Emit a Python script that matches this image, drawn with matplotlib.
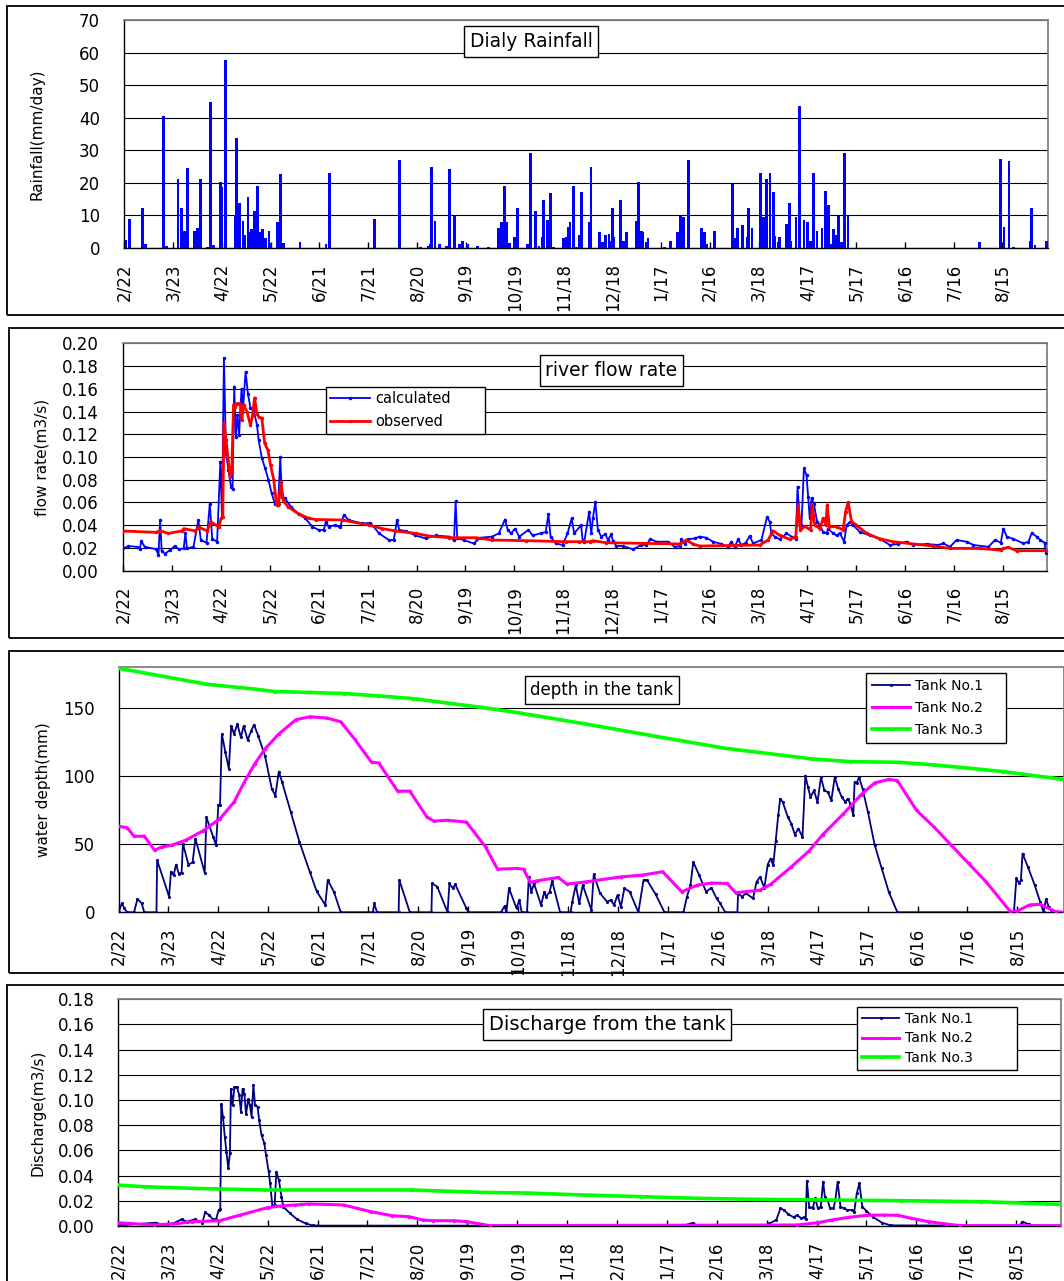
import matplotlib
matplotlib.use("Agg")
import matplotlib.pyplot as plt
from matplotlib.patches import Rectangle
from matplotlib.ticker import FixedLocator, FuncFormatter

plt.rcParams['font.family'] = ['DejaVu Sans']

W, H = 1064, 1281

# ---------------- data (day offsets from 2/22) ----------------
tick_days = list(range(0, 541, 30))
tick_labels = ['2/22', '3/23', '4/22', '5/22', '6/21', '7/21', '8/20', '9/19', '10/19',
               '11/18', '12/18', '1/17', '2/16', '3/18', '4/17', '5/17', '6/16', '7/16', '8/15']

rain_day = [1, 3, 11, 13, 24, 26, 33, 35, 36, 37, 39, 43, 45, 47, 51, 53, 55, 59, 60, 62,
            68, 69, 71, 73, 74, 76, 77, 78, 80, 82, 83, 85, 87, 89, 90, 94, 96, 98, 108, 124,
            126, 154, 169, 182, 187, 188, 189, 191, 194, 198, 200, 203, 206, 208, 211, 217, 224,
            230, 232, 234, 235, 237, 240, 242, 248, 250, 253, 255, 257, 258, 260, 262, 264,
            270, 272, 273, 274, 276, 278, 280, 281, 286, 287, 292, 294, 296, 298, 299, 300,
            301, 305, 307, 309, 315, 316, 318, 319, 321, 322, 332, 336, 340, 342, 344, 347,
            355, 357, 358, 363, 374, 375, 377, 380, 383, 384, 386, 391, 393, 394, 395, 397,
            399, 400, 402, 403, 407, 409, 410, 413, 415, 418, 420, 422, 424, 426, 429, 431,
            433, 435, 436, 438, 439, 441, 443, 445, 526, 539, 541, 544, 547, 557, 558, 560, 567]
rain_mm = [2.6, 8.9, 12.3, 1.2, 40.4, 0.7, 21.2, 12.3, 0.5, 5.3, 24.7, 5.3, 6.2, 21.2, 0.4, 44.8,
           0.9, 20.4, 18.7, 57.6, 10.2, 33.7, 13.7, 8.4, 4.1, 15.6, 4.8, 5.8, 11.5, 19.0, 5.0,
           5.8, 3.1, 5.3, 1.5, 7.9, 22.6, 1.5, 1.7, 1.2, 23.0, 8.9, 27.1, 0.4, 0.7, 1.2, 24.8,
           8.4, 1.2, 0.7, 24.3, 9.7, 1.2, 2.1, 1.2, 0.7, 0.4, 6.2, 7.9, 19.0, 7.9, 1.5, 3.5,
           12.3, 1.2, 29.2, 11.5, 0.7, 3.5, 14.6, 8.7, 16.8, 0.4, 3.0, 3.5, 6.6, 7.9, 19.0,
           0.4, 4.0, 17.3, 7.9, 24.8, 4.8, 1.7, 4.0, 4.3, 2.3, 12.3, 3.5, 14.6, 2.1, 4.8, 8.4,
           20.4, 5.1, 4.8, 1.7, 3.1, 0.4, 2.1, 4.8, 9.7, 9.4, 27.1, 6.2, 4.8, 1.2, 5.1, 19.5,
           3.1, 6.2, 7.2, 3.5, 12.3, 6.2, 23.0, 9.4, 1.7, 21.2, 23.0, 17.3, 3.8, 1.7, 3.5, 7.4,
           13.7, 2.1, 9.4, 43.5, 8.7, 8.1, 2.1, 23.0, 5.3, 6.2, 17.6, 13.2, 1.2, 5.8, 4.0, 9.7,
           1.7, 29.2, 10.2, 1.7, 27.4, 6.4, 26.6, 0.4, 2.1, 12.3, 0.9, 2.1]

calc_day = [0, 3, 8, 10, 11, 13, 20, 21.5, 22.5, 23.5, 25.5, 28.5, 31.5, 34, 37, 38, 39, 43, 46,
            47.5, 51, 53, 54.5, 57.5, 59.5, 60.5, 61.7, 63, 64.5, 66, 67, 68, 69, 70, 71, 72.5,
            73.5, 75, 76.5, 78, 80, 82, 83, 85, 87, 89, 91, 93, 95, 96.3, 97.3, 99, 103, 107.5,
            111.7, 116, 120, 123, 124.3, 126, 130, 133, 135.3, 138.3, 146.5, 151.7, 157, 163,
            166, 168, 169.3, 173.3, 179.3, 185.5, 191.7, 200, 203, 204, 205, 209, 215, 219.3,
            226.3, 230.5, 234.3, 236, 238, 240.5, 243, 248.7, 251.3, 256.5, 259.3, 261, 262.3,
            265.5, 269.7, 272.7, 275.3, 276.8, 281, 282, 283, 286, 287.3, 288.3, 289.8, 291.4,
            293.4, 296, 297.5, 299.6, 300.6, 302.7, 306.8, 312.9, 318, 321.1, 323.6, 327.3,
            334.4, 338.5, 341.6, 342.6, 344.7, 346.7, 350.8, 353.9, 358, 362.1, 367.2, 371.3,
            373.4, 375.4, 377.5, 379.5, 382.2, 384.6, 386.7, 391.8, 395.3, 396.9, 397.9, 400,
            403.1, 407.2, 410.3, 412.9, 414, 415.4, 416.4, 417.9, 419.5, 420.5, 421.5, 422.6,
            424, 426, 427.7, 429.7, 431.8, 432.8, 435.9, 438, 440, 442.6, 444.1, 446.1, 448.2,
            452.3, 458.4, 464.6, 470.7, 475.9, 481, 485, 493.3, 500.5, 503.5, 507.6, 511.7,
            517.9, 522, 531.2, 535.3, 538.8, 540.4, 542.5, 546.6, 552.7, 555.8, 557.8, 560.9,
            563, 565.7, 566.7]
calc_q = [0.0196, 0.0217, 0.021, 0.019, 0.026, 0.021, 0.019, 0.014, 0.0446, 0.017, 0.015, 0.018,
          0.0217, 0.0188, 0.0196, 0.033, 0.0196, 0.021, 0.0446, 0.027, 0.0246, 0.059, 0.028,
          0.0255, 0.096, 0.0475, 0.187, 0.103, 0.0886, 0.074, 0.072, 0.162, 0.118, 0.137, 0.119,
          0.160, 0.144, 0.175, 0.155, 0.143, 0.141, 0.128, 0.115, 0.099, 0.090, 0.080, 0.068,
          0.059, 0.058, 0.100, 0.065, 0.064, 0.056, 0.050, 0.046, 0.0387, 0.0358, 0.0358, 0.043,
          0.0387, 0.040, 0.038, 0.049, 0.0446, 0.0416, 0.042, 0.0328, 0.027, 0.027, 0.0446,
          0.0358, 0.035, 0.031, 0.0284, 0.031, 0.030, 0.027, 0.061, 0.0284, 0.027, 0.024, 0.029,
          0.030, 0.0328, 0.045, 0.0358, 0.0328, 0.037, 0.030, 0.0358, 0.031, 0.033, 0.034,
          0.0496, 0.030, 0.024, 0.0226, 0.0328, 0.046, 0.0328, 0.040, 0.027, 0.0255, 0.052,
          0.0328, 0.046, 0.0607, 0.0358, 0.030, 0.032, 0.027, 0.032, 0.026, 0.0217, 0.0217,
          0.0188, 0.0226, 0.0226, 0.0279, 0.0255, 0.0255, 0.021, 0.0217, 0.0276, 0.0235, 0.0276,
          0.0284, 0.030, 0.029, 0.0255, 0.0235, 0.021, 0.0255, 0.021, 0.0276, 0.0226, 0.0246,
          0.0305, 0.024, 0.027, 0.0475, 0.043, 0.0328, 0.030, 0.0276, 0.0328, 0.030, 0.0276,
          0.0739, 0.0416, 0.040, 0.090, 0.084, 0.065, 0.046, 0.0636, 0.059, 0.043, 0.040, 0.034,
          0.0328, 0.037, 0.0328, 0.031, 0.033, 0.0255, 0.040, 0.043, 0.040, 0.034, 0.031, 0.028,
          0.0226, 0.0235, 0.0255, 0.0226, 0.0235, 0.0226, 0.024, 0.021, 0.027, 0.0255, 0.0226,
          0.021, 0.027, 0.0246, 0.037, 0.030, 0.028, 0.024, 0.0255, 0.033, 0.030, 0.027, 0.0246,
          0.0152]

obs_day = [0, 20, 22.5, 27.5, 36, 37, 44, 46.5, 51.5, 53.5, 58.5, 60, 61, 61.7, 63, 65.5, 66.5,
           67.6, 68.6, 69.7, 71.7, 72.7, 73.8, 75.8, 78, 79.3, 80.5, 82, 83.3, 85, 86.7, 88.7,
           90.3, 92.3, 94, 95.3, 96.7, 98.3, 101.3, 107.5, 114, 118, 134.5, 151, 159, 167, 179.5,
           187.6, 200, 216.5, 226.5, 247.5, 272, 280, 286.3, 288.3, 296.5, 341.6, 345.7, 349.8,
           353.9, 390.8, 395.9, 399, 403.1, 409.2, 412.9, 414.4, 415.8, 418.5, 422, 423, 424.6,
           427.7, 429.7, 431.4, 432.2, 433.5, 438, 442, 443.5, 445.1, 447.2, 450.2, 456.4, 464.6,
           472.8, 485, 497.4, 507.6, 526, 538.8, 540.4, 543.5, 548.6, 567]
obs_q = [0.0349, 0.0337, 0.0352, 0.0328, 0.035, 0.037, 0.035, 0.038, 0.035, 0.043, 0.0387,
         0.046, 0.0475, 0.130, 0.115, 0.0827, 0.087, 0.146, 0.144, 0.147, 0.147, 0.1325, 0.146,
         0.140, 0.128, 0.137, 0.152, 0.138, 0.135, 0.134, 0.112, 0.106, 0.093, 0.080, 0.058,
         0.059, 0.078, 0.061, 0.056, 0.050, 0.046, 0.045, 0.0446, 0.040, 0.037, 0.035, 0.0328,
         0.0305, 0.029, 0.029, 0.027, 0.0264, 0.0255, 0.0255, 0.0255, 0.0264, 0.0246, 0.0235,
         0.027, 0.0235, 0.0217, 0.0226, 0.027, 0.035, 0.031, 0.0276, 0.030, 0.058, 0.0358,
         0.039, 0.0358, 0.058, 0.040, 0.037, 0.046, 0.040, 0.058, 0.0387, 0.0387, 0.0358, 0.052,
         0.060, 0.043, 0.040, 0.0328, 0.028, 0.0255, 0.0235, 0.0217, 0.0196, 0.0196, 0.018,
         0.0196, 0.0205, 0.0176, 0.0176]

# water depth in tanks (mm)
t1_day = [0, 2, 3.5, 5.2, 9.3, 11.4, 13.9, 15.5, 22.8, 23.2, 30.4, 31.5, 33.1, 34.6, 36.2, 37.9,
          38.7, 42, 44.5, 46.2, 51.8, 52.8, 56.9, 58.6, 60, 61, 62.1, 64.2, 66.3, 67.7, 69.4,
          71.4, 73.5, 75.2, 77.6, 79.7, 81.4, 83.9, 88, 92.1, 94.2, 96.3, 98.3, 103.5, 108.7,
          114.9, 119, 124.2, 125.7, 129.4, 133.5, 152.8, 153.6, 155.3, 168.3, 168.7, 175, 188,
          188.4, 191.5, 197.7, 198.8, 200.8, 202.3, 209, 210.1, 229.8, 231.9, 233, 234.6, 239.1,
          240.8, 242.2, 245.4, 246.5, 248, 249.6, 253.8, 255.9, 256.9, 259, 260.5, 265.3, 271.6,
          272.6, 274.7, 276.8, 278.9, 284.1, 285.5, 289.3, 293.5, 295.6, 297.7, 299.8, 301.8,
          303.9, 307.1, 312.3, 315.4, 317.5, 322.7, 328, 339.4, 341.5, 343.6, 345.3, 348.8, 353,
          356.2, 359.3, 361.4, 364.5, 371.8, 372.2, 374.5, 377, 381.2, 383.3, 385.4, 388, 390,
          391.7, 393.3, 394.8, 396.3, 397.5, 399, 402.1, 404.2, 406.3, 408.4, 410.9, 412.6,
          414.2, 415.7, 417.8, 419.9, 422, 424, 426.1, 428.2, 430.3, 432.4, 434.5, 436.6, 438,
          439.7, 441.4, 442.2, 443.5, 444.9, 447, 450.2, 454.3, 458.5, 462.7, 467.9, 537.9,
          539.4, 541.1, 542.1, 543.1, 546.3, 550.4, 553.6, 555.7, 557.2, 558.8, 560.9, 568]
t1_mm = [0, 6.6, 2.9, 0, 0, 9.8, 6.6, 0, 0, 38.3, 11.5, 29.8, 27.3, 35.1, 28.5, 29, 50.5, 35.1,
         36.6, 54.1, 29, 70, 55.4, 49.3, 79, 79, 131, 117.6, 105.4, 137, 131, 138.3, 128.5, 137,
         126.6, 133.4, 137.8, 129.8, 115, 90.7, 85.8, 103.4, 95.6, 73.7, 51.7, 29.8, 15.6, 5.4,
         23.7, 15.1, 0, 0, 6.6, 0, 0, 23.7, 0, 0, 21.2, 18.8, 0, 21.2, 17.6, 20.5, 2.9, 0, 0,
         4.6, 0, 17.6, 2.9, 9, 0, 0, 25.6, 15.1, 21.2, 5.4, 15.1, 11.5, 15.1, 22.9, 0, 0, 7.8,
         20, 6.6, 20, 1.7, 27.8, 13.9, 7.8, 9, 5.4, 12.7, 4.1, 17.6, 15.1, 0, 23.7, 23.7, 13.2,
         0, 0, 11.5, 20, 37, 27.3, 15.1, 18, 10.2, 6.6, 0, 0, 13.9, 11.5, 13.9, 10.2, 22.4, 26,
         18, 35.1, 39.5, 34.6, 52.2, 71.2, 83.4, 81, 70, 65.1, 57, 61.5, 55.4, 100.5, 92, 84.6,
         89.5, 81, 99.3, 89.5, 88.3, 82.2, 99.3, 90.7, 84.6, 81, 83.4, 79.8, 71.2, 95.6, 95.1,
         99.3, 90.7, 73.7, 49.3, 32.2, 15.1, 0, 0, 24.9, 21.2, 23.7, 43.2, 33.4, 20, 7.8, 0,
         9.8, 4.1, 0, 0]

t2_day = [0, 5.2, 9.3, 15.5, 21.7, 25.9, 32, 40.4, 50.7, 61, 69.4, 75.6, 81.8, 88, 96.3, 106.6,
          115, 125.3, 133.5, 141.8, 152, 156.3, 167.7, 175, 185.3, 189.4, 197.7, 209, 220.5,
          227.7, 239.2, 243.3, 247.4, 251.7, 264.2, 269.5, 281, 301.8, 314.4, 326.9, 338.4,
          347.8, 356.2, 365.6, 370.8, 385.4, 391.7, 404.2, 414.7, 423, 435.5, 446, 454.3, 462.7,
          467.9, 479.4, 489.9, 500.3, 510.7, 521.2, 535.8, 540, 547.3, 553.6, 558.8, 563, 568]
t2_mm = [63.2, 62.2, 55.9, 55.9, 45.6, 48, 49.3, 53, 59.8, 68.8, 81, 95.6, 109, 120, 131, 141.5,
         143.7, 142.7, 140, 127.3, 110.2, 109.8, 89, 89, 70, 67, 67.6, 66.3, 48, 31.7, 32.2,
         31.7, 22, 23.2, 25.6, 20.7, 22.4, 26, 27.3, 29.8, 15.1, 20, 21.5, 21.2, 14.4, 16.3,
         20.5, 33.4, 44.9, 57, 72.4, 86.3, 95.1, 97.6, 96.8, 74.9, 62.7, 49.3, 35.9, 22.4, 0.5,
         1, 5.4, 5.9, 2.9, 0.5, 0]

t3_day = [0, 52.8, 81.8, 94, 115, 135.6, 156, 177, 197.7, 218.4, 239, 281, 322.7, 364.5, 416.7,
          439.7, 469, 489.9, 510.7, 531.6, 552.5, 568]
t3_mm = [179.3, 167.6, 164, 162.2, 161.5, 160.7, 159, 157, 153.7, 150.5, 146.8, 138.3, 129.3,
         120.5, 112.7, 110.7, 110.2, 108.3, 105.9, 103.4, 100, 97.6]

# discharge from tanks (m3/s)
d1_day = [0, 22.8, 28, 34, 38.3, 41.4, 46.2, 50.7, 52.4, 54.9, 56.9, 59, 60.5, 61.5, 62.1, 63.1,
          64.2, 65.2, 66.3, 67.3, 67.9, 68.9, 70, 71.4, 72.9, 73.9, 74.9, 76, 77, 78.3, 79.3,
          80.3, 81.4, 82.4, 83.9, 84.9, 86.3, 88, 89, 90.5, 91.5, 92.8, 94.2, 95.2, 96.7, 98.3,
          99.4, 103.5, 107.7, 112.8, 117, 121, 340, 345.8, 348, 390, 391.7, 395.8, 398.3, 400.4,
          403.1, 406.3, 408.3, 410.8, 412.5, 413.5, 414.2, 415.6, 417.7, 419.2, 420.8, 422.5,
          424, 425, 426.7, 428.1, 430.2, 431.3, 432.7, 434.4, 436.5, 438.5, 441.3, 442.7, 444.2,
          445.8, 447.5, 450, 454.2, 459.4, 464.6, 540, 542, 543.8, 547.9, 551, 567]
d1_q = [0.0005, 0.0026, 0.0005, 0.0026, 0.0053, 0.0034, 0.0053, 0.0026, 0.0108, 0.0087, 0.0053,
        0.0053, 0.0127, 0.0132, 0.0968, 0.0868, 0.0709, 0.059, 0.0458, 0.0577, 0.109, 0.096,
        0.110, 0.1106, 0.104, 0.0907, 0.109, 0.105, 0.089, 0.1005, 0.096, 0.0868, 0.112, 0.096,
        0.0947, 0.084, 0.072, 0.0656, 0.0563, 0.0439, 0.0339, 0.0159, 0.0167, 0.0431, 0.0365,
        0.0233, 0.0153, 0.010, 0.0053, 0.002, 0.0005, 0.0003, 0.0003, 0.0026, 0.0003, 0.0003,
        0.002, 0.0048, 0.014, 0.0127, 0.0093, 0.0069, 0.0087, 0.0061, 0.0069, 0.0053, 0.036,
        0.0153, 0.014, 0.022, 0.014, 0.0153, 0.0352, 0.0233, 0.0206, 0.014, 0.014, 0.0206,
        0.0352, 0.0153, 0.014, 0.0127, 0.0127, 0.0114, 0.026, 0.0339, 0.0153, 0.0119, 0.0069,
        0.0026, 0.0005, 0.0003, 0.0003, 0.0034, 0.0013, 0.0003, 0.0003]

d2_day = [0, 15.5, 21.7, 36, 44.5, 61, 73.5, 90, 98.3, 106.6, 115, 135.6, 143.9, 152, 164.6,
          175, 183.2, 189.4, 201.9, 210, 223.6, 408.3, 420.8, 429.2, 439.6, 450, 460.4, 468.8,
          477.1, 487.5, 497.9, 506.3, 567]
d2_q = [0.0026, 0.0013, 0.0008, 0.002, 0.0034, 0.0042, 0.0087, 0.0146, 0.016, 0.0167, 0.0175,
        0.0167, 0.014, 0.0114, 0.0082, 0.0074, 0.0048, 0.0042, 0.0042, 0.0034, 0.0003, 0.0008,
        0.0026, 0.0048, 0.0069, 0.0085, 0.0087, 0.0085, 0.0061, 0.0034, 0.0016, 0.0003, 0.0003]

d3_day = [0, 15.5, 44.5, 88, 177, 218, 245, 281, 314.6, 347.9, 383.3, 429.2, 470.8, 518.8, 558.3,
          567]
d3_q = [0.0325, 0.0312, 0.0299, 0.0286, 0.0286, 0.0267, 0.0262, 0.0246, 0.0233, 0.022, 0.0212,
        0.0206, 0.0201, 0.0193, 0.0175, 0.0172]

# ---------------- figure ----------------
fig = plt.figure(figsize=(W / 100, H / 100), dpi=100)


def add_ax(left, top, right, bottom):
    return fig.add_axes([left / W, 1 - bottom / H, (right - left) / W, (bottom - top) / H])


def frame(x0, y0, x1, y1):
    fig.patches.append(Rectangle((x0 / W, 1 - y1 / H), (x1 - x0) / W, (y1 - y0) / H,
                                 transform=fig.transFigure, fill=False, ec='black', lw=1.3,
                                 zorder=0))


def setup(ax, xlim, ylim, yticks, fmt):
    ax.set_xlim(*xlim)
    ax.set_ylim(*ylim)
    ax.xaxis.set_major_locator(FixedLocator(tick_days))
    ax.set_xticklabels(tick_labels, rotation=90, fontsize=12)
    ax.yaxis.set_major_locator(FixedLocator(yticks))
    ax.yaxis.set_major_formatter(FuncFormatter(lambda v, p: fmt.format(v)))
    ax.tick_params(axis='x', direction='in', length=4, width=1, pad=11, labelsize=12)
    ax.tick_params(axis='y', length=0, pad=17, labelsize=12)
    ax.yaxis.grid(True, color='black', lw=0.8)
    ax.set_axisbelow(True)
    for s in ('top', 'right'):
        ax.spines[s].set_color('#808080')
        ax.spines[s].set_linewidth(1.3)
    for s in ('left', 'bottom'):
        ax.spines[s].set_color('black')
        ax.spines[s].set_linewidth(1.0)


def title_box(cx, cy, text, size):
    fig.text(cx / W, 1 - cy / H, text, ha='center', va='center', fontsize=size,
             bbox=dict(boxstyle='square,pad=0.3', fc='white', ec='black', lw=1.0), zorder=5)


def ylab(ax, px, left, right, text):
    ax.set_ylabel(text, fontsize=11, va='center')
    ax.yaxis.set_label_coords((px - left) / (right - left), 0.5)


def legend(ax, x0, y0, w, h, size, bpad, lspace):
    lg = ax.legend(loc='upper left', bbox_to_anchor=(x0 / W, 1 - (y0 + h) / H, w / W, h / H),
                   bbox_transform=fig.transFigure, mode='expand', borderaxespad=0,
                   fancybox=False, edgecolor='black', framealpha=1, fontsize=size,
                   handlelength=2.7, handletextpad=0.4, borderpad=bpad, labelspacing=lspace)
    lg.get_frame().set_linewidth(1.0)
    return lg


# frames
frame(7, 6, 1080, 315)
frame(8.5, 328, 1080, 638)
frame(9, 651, 1080, 973)
frame(7, 985, 1080, 1300)

# ---- panel 1: rainfall ----
L1, R1 = 123.5, 1048
ax1 = add_ax(L1, 20, R1, 248)
ax1.bar(rain_day, rain_mm, width=1.7, color='#0000FF', lw=0, zorder=3)
setup(ax1, (-0.5, 568), (0, 70), list(range(0, 71, 10)), '{:.0f}')
ylab(ax1, 37, L1, R1, 'Rainfall(mm/day)')
title_box(531, 41.5, 'Dialy Rainfall', 13.5)

# ---- panel 2: river flow ----
L2, R2 = 122.5, 1047
ax2 = add_ax(L2, 343.3, R2, 570.7)
ax2.plot(calc_day, calc_q, color='#0000FF', lw=1.3, marker='.', ms=3, label='calculated',
         zorder=3)
ax2.plot(obs_day, obs_q, color='#FF0000', lw=2.0, marker='.', ms=3, label='observed', zorder=4)
setup(ax2, (-0.6, 567.2), (0, 0.20), [i * 0.02 for i in range(11)], '{:.2f}')
ylab(ax2, 42, L2, R2, 'flow rate(m3/s)')
title_box(611.5, 370.5, 'river flow rate', 13.5)
legend(ax2, 326, 387, 159, 51, 10.5, 0.3, 0.55)

# ---- panel 3: depth in tank ----
L3, R3 = 118.5, 1064
ax3 = add_ax(L3, 667.3, R3, 912.3)
ax3.plot(t1_day, t1_mm, color='#000080', lw=1.3, marker='.', ms=2.5, label='Tank No.1', zorder=3)
ax3.plot(t2_day, t2_mm, color='#FF00FF', lw=2.2, marker='.', ms=3, label='Tank No.2', zorder=4)
ax3.plot(t3_day, t3_mm, color='#00FF00', lw=2.6, marker='.', ms=3, label='Tank No.3', zorder=5)
setup(ax3, (0, 568), (0, 180), [0, 50, 100, 150], '{:.0f}')
ylab(ax3, 44, L3, R3, 'water depth(mm)')
title_box(602, 690, 'depth in the tank', 12)
legend(ax3, 866, 673, 140, 77, 10, 0.45, 0.55)

# ---- panel 4: discharge ----
L4, R4 = 118, 1061
ax4 = add_ax(L4, 999.3, R4, 1226)
ax4.plot(d1_day, d1_q, color='#000080', lw=1.3, marker='.', ms=2.5, label='Tank No.1', zorder=3)
ax4.plot(d2_day, d2_q, color='#FF00FF', lw=2.2, marker='.', ms=3, label='Tank No.2', zorder=4)
ax4.plot(d3_day, d3_q, color='#00FF00', lw=2.6, marker='.', ms=3, label='Tank No.3', zorder=5)
setup(ax4, (0, 567), (0, 0.18), [i * 0.02 for i in range(10)], '{:.2f}')
ylab(ax4, 38, L4, R4, 'Discharge(m3/s)')
title_box(607, 1024.5, 'Discharge from the tank', 14)
legend(ax4, 857, 1007, 160, 70, 10, 0.35, 0.4)

fig.savefig('out.png', dpi=100)
